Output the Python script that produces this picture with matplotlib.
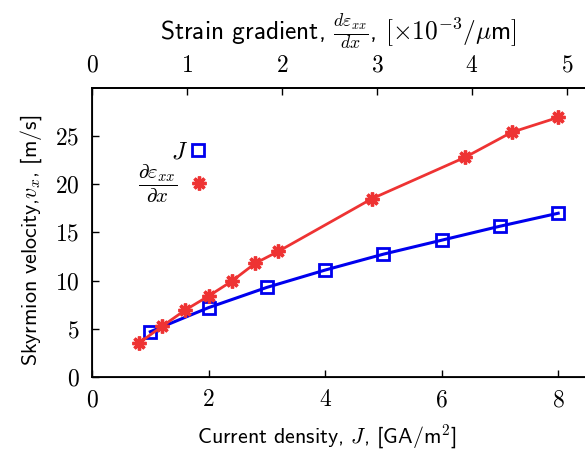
import matplotlib
matplotlib.use("Agg")
import matplotlib.pyplot as plt
from matplotlib.ticker import FuncFormatter
from matplotlib.lines import Line2D

plt.rcParams['mathtext.fontset'] = 'cm'
plt.rcParams['font.family'] = ['cmss10', 'DejaVu Sans']
plt.rcParams['axes.formatter.use_mathtext'] = True

# data
j_current = [1, 2, 3, 4, 5, 6, 7, 8]
v_current = [4.7, 7.2, 9.3, 11.1, 12.75, 14.2, 15.65, 17.0]
x_strain = [0.8, 1.2, 1.6, 2.0, 2.4, 2.8, 3.2, 4.8, 6.4, 7.2, 8.0]
v_strain = [3.5, 5.25, 6.95, 8.4, 9.95, 11.8, 13.05, 18.5, 22.8, 25.4, 26.95]
bottom_ticks = [0, 2, 4, 6, 8]
top_ticks = [0, 1, 2, 3, 4, 5]
y_ticks = [0, 5, 10, 15, 20, 25]
labels = ['$J$', r'$\dfrac{\partial\varepsilon_{xx}}{\partial x}$']

blue = '#0000ee'
red = '#ee3333'
blue_style = dict(color=blue, marker='s', ms=8.5, mfc='none', mec=blue, mew=2.0)
red_style = dict(color=red, marker=(8, 2, 0), ms=10, mec=red, mew=2.4)

fig = plt.figure(figsize=(5.85, 4.5), dpi=100)
ax = fig.add_axes([92/585, 73/450, 493/585, 289/450])

ax.plot(j_current, v_current, lw=2.2, zorder=3, **blue_style)
ax.plot(x_strain, v_strain, lw=2.0, zorder=4, **red_style)

ax.set_xlim(0, 8.46)
ax.set_ylim(0, 30)
ax.set_xticks(bottom_ticks)
ax.set_yticks(y_ticks)
fmt = FuncFormatter(lambda v, p: '$%g$' % v)
ax.xaxis.set_major_formatter(fmt)
ax.yaxis.set_major_formatter(fmt)
ax.tick_params(direction='in', length=5, width=1, labelsize=17, top=False, right=False)
ax.tick_params(axis='x', pad=9)
ax.tick_params(axis='y', pad=9)
for s in ['left', 'bottom', 'top']:
    ax.spines[s].set_linewidth(1.3)
ax.spines['right'].set_visible(False)

ax.set_xlabel(r'Current density, $J$, [GA/m$^\mathsf{2}$]', fontsize=15.8)
ax.xaxis.set_label_coords(0.477, -0.158)
ax.set_ylabel(r'Skyrmion velocity,$v_x$, [m/s]', fontsize=15.8)
ax.yaxis.set_label_coords(-0.098, 0.474)

ax2 = ax.twiny()
ax2.set_xlim(0, 5.19)
ax2.set_xticks(top_ticks)
ax2.xaxis.set_major_formatter(fmt)
ax2.tick_params(direction='in', length=5, width=1, labelsize=17, pad=8)
ax2.spines['right'].set_visible(False)
ax2.spines['top'].set_linewidth(1.3)
ax2.set_xlabel(r'Strain gradient, $\frac{d\varepsilon_{xx}}{dx}$, $[\times10^{-3}/\mu$m$]$',
               fontsize=18.3, labelpad=11)

common = dict(loc='center right', frameon=False, markerfirst=False,
              handlelength=0.6, numpoints=1, borderpad=0, borderaxespad=0)
h1 = Line2D([], [], ls='none', **blue_style)
h2 = Line2D([], [], ls='none', **red_style)
leg1 = ax.legend([h1], [labels[0]], bbox_to_anchor=(0.229, 0.7785), fontsize=17,
                 handletextpad=0.1, **common)
ax.add_artist(leg1)
leg2 = ax.legend([h2], [labels[1]], bbox_to_anchor=(0.229, 0.668), fontsize=15,
                 handletextpad=0.7, **common)

fig.savefig('out.png', dpi=100)
